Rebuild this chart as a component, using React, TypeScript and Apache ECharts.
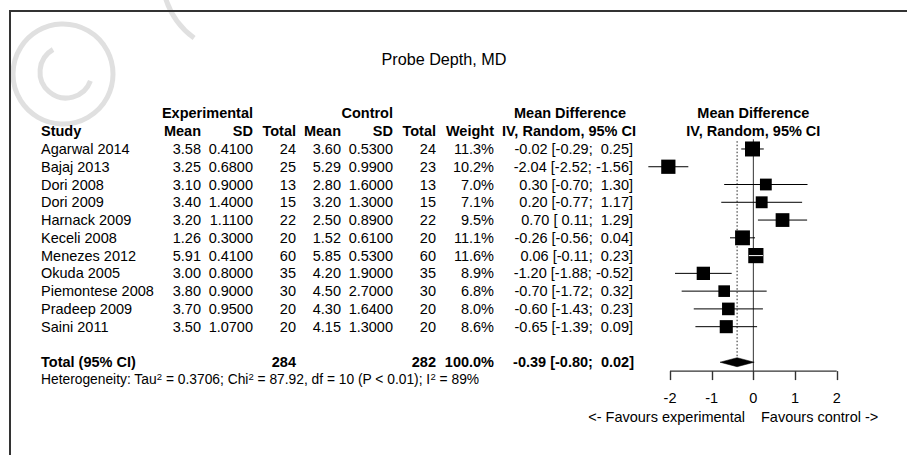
import React, { useEffect, useRef } from "react";
import * as echarts from "echarts";

// ---------- data ----------
const studies = [
  "Agarwal 2014", "Bajaj 2013", "Dori 2008", "Dori 2009", "Harnack 2009", "Keceli 2008",
  "Menezes 2012", "Okuda 2005", "Piemontese 2008", "Pradeep 2009", "Saini 2011",
];
const expMean = [3.58, 3.25, 3.10, 3.40, 3.20, 1.26, 5.91, 3.00, 3.80, 3.70, 3.50];
const expSD = [0.41, 0.68, 0.90, 1.40, 1.11, 0.30, 0.41, 0.80, 0.90, 0.95, 1.07];
const expN = [24, 25, 13, 15, 22, 20, 60, 35, 30, 20, 20];
const ctlMean = [3.60, 5.29, 2.80, 3.20, 2.50, 1.52, 5.85, 4.20, 4.50, 4.30, 4.15];
const ctlSD = [0.53, 0.99, 1.60, 1.30, 0.89, 0.61, 0.53, 1.90, 2.70, 1.64, 1.30];
const ctlN = [24, 23, 13, 15, 22, 20, 60, 35, 30, 20, 20];
const weights = [11.3, 10.2, 7.0, 7.1, 9.5, 11.1, 11.6, 8.9, 6.8, 8.0, 8.6];
const md = [-0.02, -2.04, 0.30, 0.20, 0.70, -0.26, 0.06, -1.20, -0.70, -0.60, -0.65];
const ciLow = [-0.29, -2.52, -0.70, -0.77, 0.11, -0.56, -0.11, -1.88, -1.72, -1.43, -1.39];
const ciHigh = [0.25, -1.56, 1.30, 1.17, 1.29, 0.04, 0.23, -0.52, 0.32, 0.23, 0.09];
const pooledMd = -0.39;
const pooledLow = -0.80;
const pooledHigh = 0.02;
const totalExpN = 284;
const totalCtlN = 282;
const totalWeight = 100.0;
const xTicks = [-2, -1, 0, 1, 2];
const hetTau2 = "0.3706";
const hetChi2 = "87.92";
const hetDf = 10;
const hetP = "P < 0.01";
const hetI2 = "89%";

// ---------- layout ----------
const FONT = '"Liberation Sans", Arial, Helvetica, sans-serif';
const FS = 14.5;
const ROW_TOTAL = 12;
const ROW_HET = 13;
const Y_MIN = -0.55;
const Y_MAX = 12.5;
const SQUARE_K = 4.46;
const TICK_LEN = 9;

const NB = "\u00A0";
const f2 = (v: number) => v.toFixed(2);
const pad = (v: number) => (v < 0 ? v.toFixed(2) : NB + v.toFixed(2));
const ciText = (m: number, l: number, h: number) => `${f2(m)} [${pad(l)};${NB}${pad(h)}]`;

type Cell = { text: string; x: number | "zero"; align: "left" | "right" | "center"; bold?: boolean; rich?: boolean };
type RowSpec = { row: number; cells: Cell[] };

const C_STUDY = 41;
const C_EMEAN = 201;
const C_ESD = 253;
const C_ETOT = 296;
const C_CMEAN = 341;
const C_CSD = 393;
const C_CTOT = 436;
const C_W = 494;
const C_CI = 633;

const rowsSpec: RowSpec[] = [
  {
    row: -2,
    cells: [
      { text: "Experimental", x: C_ESD, align: "right", bold: true },
      { text: "Control", x: C_CSD, align: "right", bold: true },
      { text: "Mean Difference", x: 570, align: "center", bold: true },
      { text: "Mean Difference", x: "zero", align: "center", bold: true },
    ],
  },
  {
    row: -1,
    cells: [
      { text: "Study", x: C_STUDY, align: "left", bold: true },
      { text: "Mean", x: C_EMEAN, align: "right", bold: true },
      { text: "SD", x: C_ESD, align: "right", bold: true },
      { text: "Total", x: C_ETOT, align: "right", bold: true },
      { text: "Mean", x: C_CMEAN, align: "right", bold: true },
      { text: "SD", x: C_CSD, align: "right", bold: true },
      { text: "Total", x: C_CTOT, align: "right", bold: true },
      { text: "Weight", x: C_W, align: "right", bold: true },
      { text: "IV, Random, 95% CI", x: 569, align: "center", bold: true },
      { text: "IV, Random, 95% CI", x: "zero", align: "center", bold: true },
    ],
  },
  ...studies.map((s, i) => ({
    row: i,
    cells: [
      { text: s, x: C_STUDY, align: "left" as const },
      { text: expMean[i].toFixed(2), x: C_EMEAN, align: "right" as const },
      { text: expSD[i].toFixed(4), x: C_ESD, align: "right" as const },
      { text: String(expN[i]), x: C_ETOT, align: "right" as const },
      { text: ctlMean[i].toFixed(2), x: C_CMEAN, align: "right" as const },
      { text: ctlSD[i].toFixed(4), x: C_CSD, align: "right" as const },
      { text: String(ctlN[i]), x: C_CTOT, align: "right" as const },
      { text: weights[i].toFixed(1) + "%", x: C_W, align: "right" as const },
      { text: ciText(md[i], ciLow[i], ciHigh[i]), x: C_CI, align: "right" as const },
    ],
  })),
  {
    row: ROW_TOTAL,
    cells: [
      { text: "Total (95% CI)", x: C_STUDY, align: "left", bold: true },
      { text: String(totalExpN), x: C_ETOT, align: "right", bold: true },
      { text: String(totalCtlN), x: C_CTOT, align: "right", bold: true },
      { text: totalWeight.toFixed(1) + "%", x: C_W, align: "right", bold: true },
      { text: ciText(pooledMd, pooledLow, pooledHigh), x: C_CI + 1, align: "right", bold: true },
    ],
  },
  {
    row: ROW_HET,
    cells: [
      {
        text:
          `{n|Heterogeneity: Tau}{s|2}{n| = ${hetTau2}; Chi}{s|2}{n| = ${hetChi2}, df = ${hetDf} (${hetP}); I}{s|2}{n| = ${hetI2}}`,
        x: C_STUDY,
        align: "left",
        rich: true,
      },
    ],
  },
];

export default function App() {
  const ref = useRef<HTMLDivElement>(null);
  useEffect(() => {
    document.body.style.margin = "0";
    const chart = echarts.init(ref.current!, null, { renderer: "svg" });

    const tableRender = (params: any, api: any) => {
      const spec = rowsSpec[params.dataIndex];
      const y = api.coord([0, spec.row])[1];
      const zeroX = api.coord([0, spec.row])[0];
      const children = spec.cells.map((c) => {
        const x = c.x === "zero" ? zeroX : c.x;
        if (c.rich) {
          return {
            type: "text",
            x,
            y,
            style: {
              text: c.text,
              align: c.align,
              verticalAlign: "middle",
              fill: "#000",
              fontFamily: FONT,
              rich: {
                n: { fontSize: 13.8, fontFamily: FONT, fill: "#000", lineHeight: 17 },
                s: { fontSize: 9.5, fontFamily: FONT, fill: "#000", verticalAlign: "top", lineHeight: 17 },
              },
            },
          };
        }
        return {
          type: "text",
          x,
          y,
          style: {
            text: c.text,
            align: c.align,
            verticalAlign: "middle",
            fill: "#000",
            fontFamily: FONT,
            fontSize: FS,
            fontWeight: c.bold ? "bold" : "normal",
          },
        };
      });
      return { type: "group", children };
    };

    const ciRender = (params: any, api: any) => {
      const m = api.value(0);
      const row = api.value(1);
      const lo = api.value(2);
      const hi = api.value(3);
      const w = api.value(4);
      const c = api.coord([m, row]);
      const pl = api.coord([lo, row]);
      const ph = api.coord([hi, row]);
      const side = SQUARE_K * Math.sqrt(w);
      const children: any[] = [
        { type: "line", shape: { x1: pl[0], y1: c[1], x2: ph[0], y2: c[1] }, style: { stroke: "#000", lineWidth: 1 } },
        {
          type: "rect",
          shape: { x: c[0] - side / 2, y: c[1] - side / 2, width: side, height: side },
          style: { fill: "#000" },
        },
      ];
      if (ph[0] - pl[0] < side) {
        children.push({
          type: "line",
          shape: { x1: pl[0], y1: c[1], x2: ph[0], y2: c[1] },
          style: { stroke: "#fff", lineWidth: 1 },
        });
      }
      return { type: "group", children };
    };

    const diamondRender = (params: any, api: any) => {
      const m = api.value(0);
      const row = api.value(1);
      const lo = api.value(2);
      const hi = api.value(3);
      const c = api.coord([m, row]);
      const pl = api.coord([lo, row]);
      const ph = api.coord([hi, row]);
      const h = 4.5;
      return {
        type: "polygon",
        shape: { points: [[pl[0], c[1]], [c[0], c[1] - h], [ph[0], c[1]], [c[0], c[1] + h]] },
        style: { fill: "#000", stroke: "#000", lineWidth: 0.5 },
      };
    };

    // downward tick marks at each x tick, drawn through the scale
    const tickRender = (params: any, api: any) => {
      const p = api.coord([api.value(0), api.value(1)]);
      const x = Math.round(p[0]) + 0.5;
      return {
        type: "line",
        shape: { x1: x, y1: p[1], x2: x, y2: p[1] + TICK_LEN },
        style: { stroke: "#333", lineWidth: 1.4 },
      };
    };

    const refRender = (params: any, api: any) => {
      const x = api.value(0);
      const yEnd = api.value(1);
      const dotted = api.value(2) === 1;
      const p1 = api.coord([x, Y_MIN]);
      const p2 = api.coord([x, yEnd]);
      return {
        type: "line",
        shape: { x1: p1[0], y1: p1[1] + (dotted ? 2 : 0), x2: p2[0], y2: p2[1] },
        style: { stroke: dotted ? "#222" : "#333", lineWidth: 1, lineDash: dotted ? [1.5, 2] : [] },
      };
    };

    const option: any = {
      animation: false,
      backgroundColor: "#fff",
      grid: { left: 670, right: 70.3, top: 139.2, bottom: 83.9, containLabel: false },
      xAxis: {
        type: "value",
        position: "bottom",
        min: xTicks[0],
        max: xTicks[xTicks.length - 1],
        interval: 1,
        axisLine: { show: false, onZero: false },
        axisTick: { show: false },
        axisLabel: { color: "#000", fontSize: FS, fontFamily: FONT, margin: 19 },
        splitLine: { show: false },
      },
      yAxis: { type: "value", inverse: true, min: Y_MIN, max: Y_MAX, show: false },
      graphic: [
        {
          type: "arc",
          z: -10,
          shape: { cx: 63, cy: 74, r: 50, startAngle: 0, endAngle: Math.PI * 2 },
          style: { stroke: "#e0e0e0", lineWidth: 5, fill: "none" },
          silent: true,
        },
        {
          type: "arc",
          z: -10,
          shape: { cx: 66, cy: 72, r: 26, startAngle: 0.35, endAngle: 4.19, clockwise: true },
          style: { stroke: "#e0e0e0", lineWidth: 5, fill: "none" },
          silent: true,
        },
        {
          type: "arc",
          z: -10,
          shape: { cx: 240, cy: -25, r: 78, startAngle: 2.2, endAngle: 2.83, clockwise: true },
          style: { stroke: "#e0e0e0", lineWidth: 5, fill: "none" },
          silent: true,
        },
        {
          type: "rect",
          z: -5,
          shape: { x: 10, y: 11, width: 1000, height: 1000 },
          style: { stroke: "#333", lineWidth: 2, fill: null },
          silent: true,
        },
        {
          type: "text",
          x: 444,
          y: 58.5,
          style: {
            text: "Probe Depth, MD",
            align: "center",
            verticalAlign: "middle",
            fontSize: 16.2,
            fontFamily: FONT,
            fill: "#000",
          },
        },
        {
          type: "text",
          x: 745,
          y: 417,
          style: {
            text: "<- Favours experimental",
            align: "right",
            verticalAlign: "middle",
            fontSize: FS,
            fontFamily: FONT,
            fill: "#000",
          },
        },
        {
          type: "text",
          x: 761,
          y: 417,
          style: {
            text: "Favours control ->",
            align: "left",
            verticalAlign: "middle",
            fontSize: FS,
            fontFamily: FONT,
            fill: "#000",
          },
        },
      ],
      series: [
        {
          type: "custom",
          name: "table",
          clip: false,
          renderItem: tableRender,
          data: rowsSpec.map((r) => [0, r.row]),
          encode: { x: 0, y: 1 },
          silent: true,
        },
        {
          type: "line",
          name: "xaxis",
          data: [
            [xTicks[0], Y_MAX],
            [xTicks[xTicks.length - 1], Y_MAX],
          ],
          symbol: "none",
          clip: false,
          silent: true,
          lineStyle: { color: "#333", width: 1.4 },
          z: 6,
        },
        {
          type: "custom",
          name: "ticks",
          clip: false,
          renderItem: tickRender,
          data: xTicks.map((t) => [t, Y_MAX]),
          encode: { x: 0, y: 1 },
          silent: true,
          z: 6,
        },
        {
          type: "custom",
          name: "ref",
          clip: false,
          renderItem: refRender,
          data: [
            [0, Y_MAX, 0],
            [pooledMd, ROW_TOTAL, 1],
          ],
          encode: { x: 0, y: 1 },
          silent: true,
        },
        {
          type: "custom",
          name: "studies",
          clip: false,
          renderItem: ciRender,
          data: studies.map((_, i) => [md[i], i, ciLow[i], ciHigh[i], weights[i]]),
          encode: { x: 0, y: 1 },
          silent: true,
        },
        {
          type: "custom",
          name: "pooled",
          clip: false,
          renderItem: diamondRender,
          data: [[pooledMd, ROW_TOTAL, pooledLow, pooledHigh]],
          encode: { x: 0, y: 1 },
          silent: true,
        },
      ],
    };
    chart.setOption(option);
    return () => chart.dispose();
  }, []);
  return <div ref={ref} style={{ position: "fixed", left: 0, top: 0, width: 907, height: 455 }} />;
}
